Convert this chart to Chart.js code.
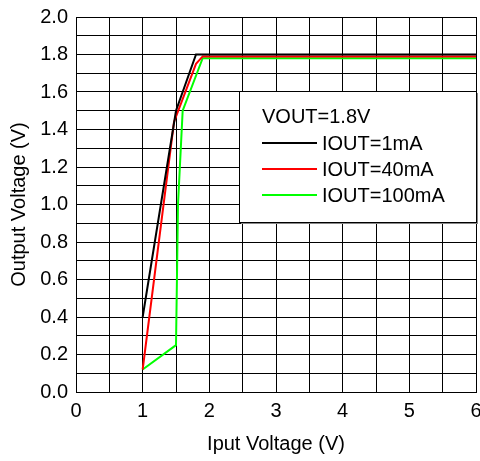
<!DOCTYPE html>
<html>
<head>
<meta charset="utf-8">
<script src="https://cdn.jsdelivr.net/npm/chart.js@4/dist/chart.umd.min.js"></script>
<style>
  html, body { margin: 0; padding: 0; background: #fff; }
  #wrap { width: 480px; height: 461px; }
</style>
</head>
<body>
<div id="wrap"><canvas id="chart" width="480" height="461"></canvas></div>
<script>
// input voltage (V) / output voltage (V)
const vin1mA = [1.0, 1.5, 1.8, 6.0];
const vout1mA = [0.40, 1.50, 1.80, 1.80];
const vin40mA = [1.0, 1.47, 1.8, 1.9, 6.0];
const vout40mA = [0.12, 1.44, 1.75, 1.79, 1.79];
const vin100mA = [1.0, 1.5, 1.53, 1.6, 1.9, 6.0];
const vout100mA = [0.12, 0.25, 1.0, 1.50, 1.78, 1.78];

const seriesLabels = ["IOUT=1mA", "IOUT=40mA", "IOUT=100mA"];
const seriesColors = ["#000000", "#ff0000", "#00ff00"];
const legendTitle = "VOUT=1.8V";

const FONT = "'Liberation Sans', Arial, sans-serif";

function toPoints(xs, ys) {
  return xs.map((x, i) => ({ x: x, y: ys[i] }));
}

//legend drawn inside the plot, like the original
const boxLegend = {
  id: "boxLegend",
  afterDraw(chart) {
    const ctx = chart.ctx;
    const x = 239, y = 91, w = 237, h = 131;
    ctx.save();
    ctx.fillStyle = "#888";
    ctx.fillRect(x + 2, y + 2, w, h);
    ctx.fillStyle = "#fff";
    ctx.fillRect(x, y, w, h);
    ctx.strokeStyle = "#000";
    ctx.lineWidth = 1;
    ctx.strokeRect(x + 0.5, y + 0.5, w, h);
    ctx.font = "20px " + FONT;
    ctx.fillStyle = "#000";
    ctx.textBaseline = "middle";
    ctx.fillText(legendTitle, 262, 117);
    const rows = [143, 169, 195];
    seriesLabels.forEach((label, i) => {
      ctx.strokeStyle = seriesColors[i];
      ctx.lineWidth = 2;
      ctx.beginPath();
      ctx.moveTo(262, rows[i]);
      ctx.lineTo(317, rows[i]);
      ctx.stroke();
      ctx.fillStyle = "#000";
      ctx.fillText(label, 322, rows[i] + 1);
    });
    ctx.restore();
  }
};

const ctx = document.getElementById("chart").getContext("2d");
Chart.defaults.font.family = FONT;
Chart.defaults.color = "#000";

new Chart(ctx, {
  type: "scatter",
  data: {
    datasets: [
      { label: seriesLabels[0], data: toPoints(vin1mA, vout1mA) },
      { label: seriesLabels[1], data: toPoints(vin40mA, vout40mA) },
      { label: seriesLabels[2], data: toPoints(vin100mA, vout100mA) }
    ].map((d, i) => Object.assign(d, {
      showLine: true,
      borderColor: seriesColors[i],
      backgroundColor: seriesColors[i],
      borderWidth: 2,
      pointRadius: 0,
      tension: 0
    }))
  },
  options: {
    responsive: false,
    animation: false,
    layout: { padding: { top: 17, right: 4, left: 0, bottom: 0 } },
    plugins: {
      legend: { display: false },
      tooltip: { enabled: false }
    },
    scales: {
      x: {
        type: "linear",
        min: 0,
        max: 6,
        afterFit: (s) => { s.height = 69; s.paddingRight = 0; s.paddingLeft = 0; },
        border: { color: "#000", width: 1 },
        grid: { color: "#000", lineWidth: 1, tickLength: 0 },
        ticks: {
          stepSize: 0.5,
          padding: 7,
          maxRotation: 0,
          autoSkip: false,
          font: { size: 20 },
          callback: (v) => (Number.isInteger(v) ? String(v) : "")
        },
        title: {
          display: true,
          text: "Iput Voltage (V)",
          font: { size: 20 },
          padding: { top: 0, bottom: 5 }
        }
      },
      y: {
        type: "linear",
        min: 0,
        max: 2,
        afterFit: (s) => { s.width = 76; s.paddingTop = 0; s.paddingBottom = 0; },
        border: { color: "#000", width: 1 },
        grid: { color: "#000", lineWidth: 1, tickLength: 0 },
        ticks: {
          stepSize: 0.1,
          padding: 8,
          autoSkip: false,
          font: { size: 20 },
          callback: (v) => {
            const k = Math.round(v * 10);
            return k % 2 === 0 ? (k / 10).toFixed(1) : "";
          }
        },
        title: {
          display: true,
          text: "Output Voltage (V)",
          font: { size: 20 },
          padding: { top: 7, bottom: 0 }
        }
      }
    }
  },
  plugins: [boxLegend]
});
</script>
</body>
</html>
